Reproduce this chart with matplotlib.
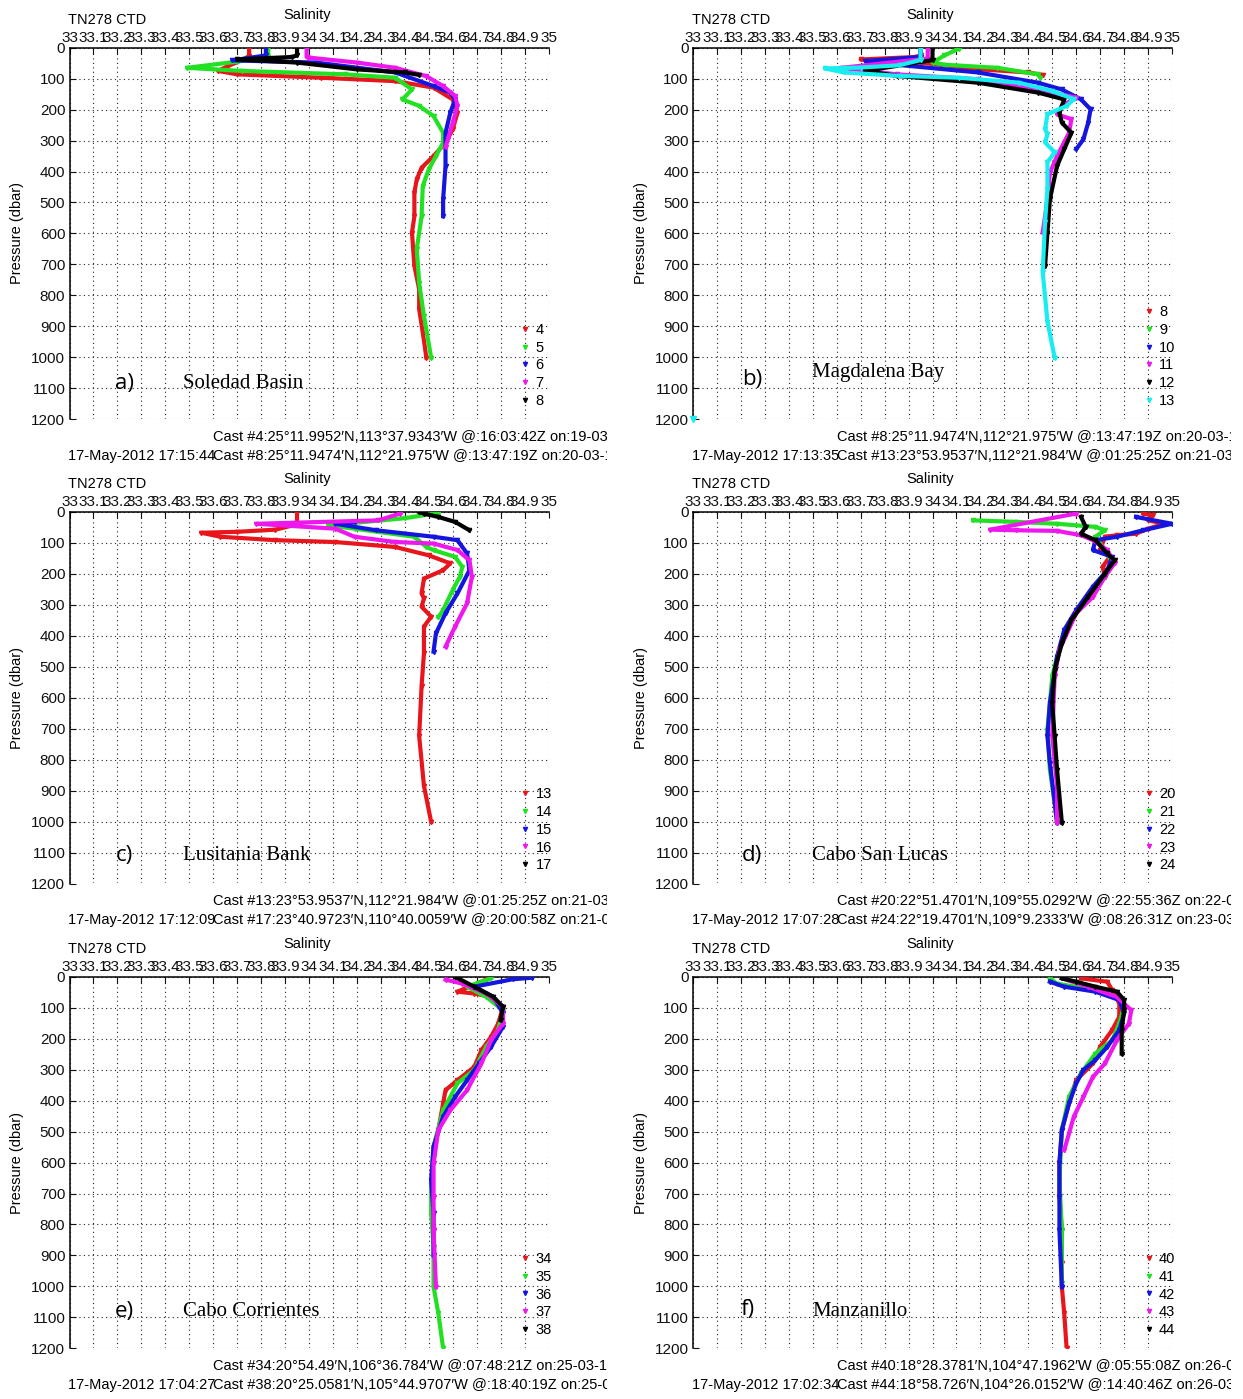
import numpy as np
import matplotlib.pyplot as plt
from matplotlib.lines import Line2D
from matplotlib.transforms import Bbox, TransformedBbox

plt.rcParams['font.family'] = ['Liberation Sans', 'DejaVu Sans']
plt.rcParams['font.size'] = 10.5

# --- CTD casts: pressure (dbar) and salinity ---
# Soledad Basin
p4 = [0, 27, 40, 60, 75, 86, 97, 108, 129, 167, 210, 264, 307, 350, 388, 425, 468, 545, 597, 705, 780, 845, 920, 1001]
s4 = [33.75, 33.75, 33.72, 33.66, 33.62, 33.70, 34.05, 34.36, 34.52, 34.60, 34.62, 34.60, 34.57, 34.52, 34.47, 34.45,
      34.44, 34.44, 34.43, 34.44, 34.46, 34.46, 34.475, 34.49]
p5 = [0, 30, 45, 65, 75, 86, 97, 135, 167, 188, 221, 275, 307, 350, 393, 447, 545, 650, 760, 867, 1001]
s5 = [33.83, 33.83, 33.70, 33.49, 33.72, 34.15, 34.36, 34.43, 34.39, 34.46, 34.52, 34.56, 34.56, 34.53, 34.50, 34.475,
      34.47, 34.45, 34.46, 34.48, 34.51]
p6 = [0, 25, 41, 48, 80, 124, 145, 167, 210, 275, 382, 490, 544]
s6 = [33.82, 33.82, 33.68, 34.03, 34.36, 34.52, 34.59, 34.61, 34.59, 34.57, 34.57, 34.56, 34.56]
p7 = [0, 30, 32, 48, 65, 92, 124, 156, 188, 242, 296, 320]
s7 = [33.99, 33.99, 34.00, 34.20, 34.36, 34.49, 34.56, 34.61, 34.62, 34.60, 34.58, 34.57]
p8 = [0, 25, 30, 38, 48, 70, 80, 88]
s8 = [33.95, 33.95, 33.93, 33.70, 33.95, 34.20, 34.40, 34.46]

# Magdalena Bay
p9 = [3, 25, 48, 55, 65, 86, 97]
s9 = [34.11, 34.05, 34.00, 34.05, 34.27, 34.44, 34.45]
p10 = [0, 30, 43, 55, 80, 113, 135, 167, 199, 242, 296, 328]
s10 = [33.95, 33.95, 33.72, 33.85, 34.19, 34.44, 34.54, 34.62, 34.66, 34.65, 34.63, 34.60]
p11 = [0, 35, 65, 86, 102, 135, 161, 188, 215, 231, 275, 350, 404, 490, 597]
s11 = [33.98, 33.98, 33.62, 33.85, 34.19, 34.44, 34.60, 34.54, 34.52, 34.58, 34.57, 34.52, 34.49, 34.48, 34.46]
p12 = [0, 40, 75, 91, 113, 145, 167, 210, 242, 275, 328, 382, 490, 597, 705]
s12 = [34.00, 34.00, 33.72, 33.85, 34.19, 34.44, 34.55, 34.53, 34.54, 34.58, 34.55, 34.52, 34.49, 34.48, 34.47]
p13 = [0, 40, 57, 64, 67, 80, 91, 97, 113, 140, 166, 188, 215, 263, 279, 306, 338, 370, 456, 563, 724, 885, 1001]
s13 = [33.95, 33.95, 33.86, 33.70, 33.55, 33.63, 33.86, 34.11, 34.36, 34.50, 34.59, 34.56, 34.48, 34.47, 34.48, 34.47,
       34.51, 34.48, 34.48, 34.47, 34.46, 34.48, 34.51]
p13_stray = [1200]
s13_stray = [33.0]

# Lusitania Bank
p14 = [3, 20, 43, 54, 80, 113, 123, 145, 177, 209, 252, 317, 340]
s14 = [34.54, 34.40, 34.08, 34.19, 34.44, 34.49, 34.52, 34.61, 34.64, 34.63, 34.60, 34.56, 34.54]
p15 = [32, 38, 59, 80, 91, 134, 188, 263, 327, 392, 451]
s15 = [34.19, 34.11, 34.28, 34.52, 34.62, 34.66, 34.67, 34.62, 34.57, 34.53, 34.52]
p16 = [5, 27, 38, 54, 80, 97, 102, 123, 156, 209, 295, 370, 435]
s16 = [34.38, 34.29, 33.78, 34.11, 34.19, 34.36, 34.52, 34.62, 34.67, 34.68, 34.66, 34.61, 34.57]
p17 = [0, 5, 16, 32, 59]
s17 = [34.46, 34.48, 34.54, 34.61, 34.67]

# Cabo San Lucas
p20 = [5, 11, 27, 38, 54, 70, 75, 80, 123, 145, 177, 209]
s20 = [34.88, 34.92, 34.90, 34.97, 34.90, 34.85, 34.77, 34.72, 34.70, 34.74, 34.71, 34.72]
p21 = [27, 32, 38, 48, 59, 80, 134, 166, 209, 274, 338, 402, 467, 531, 617, 703, 832, 939, 1003]
s21 = [34.17, 34.35, 34.52, 34.68, 34.72, 34.68, 34.73, 34.75, 34.72, 34.65, 34.59, 34.55, 34.52, 34.50, 34.49,
       34.48, 34.49, 34.51, 34.52]
p22 = [16, 38, 59, 80, 91, 123, 145, 188, 241, 317, 381, 467, 617, 724, 810, 1003]
s22 = [34.85, 35.00, 34.88, 34.77, 34.68, 34.67, 34.75, 34.73, 34.67, 34.60, 34.55, 34.52, 34.49, 34.48, 34.49, 34.52]
p23 = [5, 57, 59, 61, 75, 91, 123, 166, 209, 274, 327, 445, 531, 724, 885, 1003]
s23 = [34.60, 34.24, 34.35, 34.52, 34.62, 34.67, 34.73, 34.76, 34.72, 34.67, 34.60, 34.53, 34.51, 34.50, 34.52, 34.52]
p24 = [16, 48, 70, 91, 134, 156, 199, 274, 349, 424, 510, 617, 724, 832, 1003]
s24 = [34.62, 34.64, 34.62, 34.68, 34.73, 34.76, 34.72, 34.65, 34.58, 34.54, 34.51, 34.50, 34.51, 34.52, 34.54]

# Cabo Corrientes
p34 = [9, 48, 54, 65, 97, 151, 194, 237, 291, 334, 366, 409, 495, 549, 580]
s34 = [34.74, 34.62, 34.69, 34.76, 34.81, 34.79, 34.76, 34.72, 34.69, 34.62, 34.57, 34.56, 34.54, 34.52, 34.52]
p35 = [5, 32, 65, 108, 172, 226, 301, 344, 431, 549, 667, 764, 872, 1001, 1087, 1200]
s35 = [34.76, 34.66, 34.74, 34.81, 34.79, 34.74, 34.69, 34.62, 34.56, 34.52, 34.51, 34.51, 34.52, 34.52, 34.54, 34.56]
p36 = [3, 8, 32, 65, 118, 161, 226, 280, 334, 388, 452, 549, 657, 764, 818, 900]
s36 = [34.93, 34.85, 34.69, 34.77, 34.81, 34.81, 34.76, 34.71, 34.66, 34.61, 34.56, 34.52, 34.51, 34.52, 34.52, 34.52]
p37 = [9, 22, 54, 97, 151, 205, 280, 366, 431, 495, 603, 710, 818, 1001]
s37 = [34.57, 34.64, 34.74, 34.81, 34.81, 34.76, 34.72, 34.66, 34.59, 34.54, 34.52, 34.52, 34.52, 34.53]
p38 = [0, 32, 65, 97, 140]
s38 = [34.61, 34.69, 34.77, 34.81, 34.80]

# Manzanillo
p40 = [5, 16, 43, 86, 129, 172, 226, 280, 334, 409, 495, 603, 710, 818, 926, 1001, 1087, 1200]
s40 = [34.62, 34.73, 34.75, 34.78, 34.78, 34.75, 34.70, 34.67, 34.60, 34.57, 34.54, 34.53, 34.53, 34.54, 34.54,
       34.54, 34.55, 34.56]
p41 = [5, 22, 43, 65, 97, 151, 205, 248, 312, 388, 495, 657, 818, 990]
s41 = [34.49, 34.52, 34.68, 34.77, 34.80, 34.78, 34.75, 34.68, 34.62, 34.57, 34.54, 34.53, 34.54, 34.54]
p42 = [16, 32, 48, 75, 118, 172, 226, 269, 301, 344, 409, 495, 603, 710, 818, 1001]
s42 = [34.49, 34.55, 34.68, 34.78, 34.80, 34.78, 34.73, 34.68, 34.63, 34.60, 34.57, 34.54, 34.53, 34.53, 34.53, 34.54]
p43 = [5, 32, 65, 108, 151, 205, 280, 323, 388, 452, 560]
s43 = [34.54, 34.65, 34.77, 34.83, 34.82, 34.77, 34.72, 34.67, 34.63, 34.59, 34.55]
p44 = [5, 16, 32, 48, 75, 108, 172, 248]
s44 = [34.54, 34.60, 34.68, 34.77, 34.80, 34.80, 34.79, 34.79]

panel_letters = ['a)', 'b)', 'c)', 'd)', 'e)', 'f)']
site_names = ['Soledad Basin', 'Magdalena Bay', 'Lusitania Bank', 'Cabo San Lucas', 'Cabo Corrientes', 'Manzanillo']
footer_first = [
    'Cast #4:25°11.9952′N,113°37.9343′W @:16:03:42Z on:19-03-12',
    'Cast #8:25°11.9474′N,112°21.975′W @:13:47:19Z on:20-03-12',
    'Cast #13:23°53.9537′N,112°21.984′W @:01:25:25Z on:21-03-12',
    'Cast #20:22°51.4701′N,109°55.0292′W @:22:55:36Z on:22-03-12',
    'Cast #34:20°54.49′N,106°36.784′W @:07:48:21Z on:25-03-12',
    'Cast #40:18°28.3781′N,104°47.1962′W @:05:55:08Z on:26-03-12',
]
footer_last = [
    'Cast #8:25°11.9474′N,112°21.975′W @:13:47:19Z on:20-03-12',
    'Cast #13:23°53.9537′N,112°21.984′W @:01:25:25Z on:21-03-12',
    'Cast #17:23°40.9723′N,110°40.0059′W @:20:00:58Z on:21-03-12',
    'Cast #24:22°19.4701′N,109°9.2333′W @:08:26:31Z on:23-03-12',
    'Cast #38:20°25.0581′N,105°44.9707′W @:18:40:19Z on:25-03-12',
    'Cast #44:18°58.726′N,104°26.0152′W @:14:40:46Z on:26-03-12',
]
print_stamps = ['17-May-2012 17:15:44', '17-May-2012 17:13:35', '17-May-2012 17:12:09',
                '17-May-2012 17:07:28', '17-May-2012 17:04:27', '17-May-2012 17:02:34']

RED, GREEN, BLUE, MAG, BLK, CYAN = '#e8161c', '#22e022', '#1515e0', '#ee18ee', '#000000', '#18eef0'
casts = [
    [(p4, s4, RED, '4'), (p5, s5, GREEN, '5'), (p6, s6, BLUE, '6'), (p7, s7, MAG, '7'), (p8, s8, BLK, '8')],
    [(p8, s8, RED, '8'), (p9, s9, GREEN, '9'), (p10, s10, BLUE, '10'), (p11, s11, MAG, '11'),
     (p12, s12, BLK, '12'), (p13, s13, CYAN, '13')],
    [(p13, s13, RED, '13'), (p14, s14, GREEN, '14'), (p15, s15, BLUE, '15'), (p16, s16, MAG, '16'),
     (p17, s17, BLK, '17')],
    [(p20, s20, RED, '20'), (p21, s21, GREEN, '21'), (p22, s22, BLUE, '22'), (p23, s23, MAG, '23'),
     (p24, s24, BLK, '24')],
    [(p34, s34, RED, '34'), (p35, s35, GREEN, '35'), (p36, s36, BLUE, '36'), (p37, s37, MAG, '37'),
     (p38, s38, BLK, '38')],
    [(p40, s40, RED, '40'), (p41, s41, GREEN, '41'), (p42, s42, BLUE, '42'), (p43, s43, MAG, '43'),
     (p44, s44, BLK, '44')],
]

# layout in pixels
W, H = 1243, 1399
col_left = [69.5, 693.0]
row_top = [47.7, 512.0, 976.8]
col_cut = [607, 1231]
ax_w, ax_h = 479.0, 371.5
letter_xy = [(124, 383), (752, 380), (124, 855), (752, 855), (124, 1311), (748, 1309)]
name_xy = [(183, 383), (812, 373), (183, 856), (812, 856), (183, 1312), (812, 1311)]


def fx(x):
    return x / W


def fy(y):
    return 1 - y / H


fig = plt.figure(figsize=(W / 100, H / 100), dpi=100)

xt = np.round(np.arange(33, 35.001, 0.1), 1)
xl = ['%g' % v for v in xt]

for i in range(6):
    col, row = i % 2, i // 2
    left, top = col_left[col], row_top[row]
    ax = fig.add_axes([fx(left), fy(top + ax_h), ax_w / W, ax_h / H])

    for p, s, c, lab in casts[i]:
        ax.plot(s, p, color=c, lw=3.0, marker='v', ms=3, zorder=3)
    if i == 1:
        ax.plot(s13_stray, p13_stray, ls='none', marker='v', ms=4, color=CYAN, clip_on=False, zorder=4)

    ax.set_xlim(33, 35)
    ax.set_ylim(1200, 0)
    ax.xaxis.tick_top()
    ax.set_xticks(xt)
    ax.set_xticklabels(xl)
    ax.set_yticks(np.arange(0, 1201, 100))
    ax.tick_params(direction='in', length=4, width=0.8, pad=3, labelsize=11, colors='#111111')
    ax.tick_params(axis='x', top=True, bottom=False, labeltop=True, labelbottom=False, pad=2)
    ax.grid(True, color='#222222', ls=(0, (1, 3)), lw=0.8)
    ax.spines['right'].set_visible(False)
    ax.spines['bottom'].set_visible(False)
    ax.spines['top'].set_linewidth(1.1)
    ax.spines['left'].set_linewidth(1.1)

    handles = [Line2D([0], [0], ls='none', marker='v', ms=3, color=c) for _, _, c, _ in casts[i]]
    labels = [lab for _, _, _, lab in casts[i]]
    ax.legend(handles, labels, loc='lower left', bbox_to_anchor=((521 - col_left[0]) / ax_w, 0.03),
              frameon=False, handlelength=0.6, handletextpad=0.4, borderpad=0, borderaxespad=0,
              labelspacing=0.26, fontsize=10.5)

    fig.text(fx(left - 1.5), fy(top - 27.7), 'TN278 CTD', ha='left', va='center')
    fig.text(fx(left + ax_w / 2 - 2), fy(top - 32.7), 'Salinity', ha='center', va='center')
    fig.text(fx(left - 52.5), fy(top + ax_h / 2), 'Pressure (dbar)', rotation=90, ha='center', va='center')

    lx, ly = letter_xy[i]
    fig.text(fx(lx), fy(ly), panel_letters[i], family='Open Sans', fontsize=16, ha='center', va='center')
    nx, ny = name_xy[i]
    fig.text(fx(nx), fy(ny), site_names[i], family='Liberation Serif', fontsize=15, ha='left', va='center')

    # cast positions under each panel, cut at the column edge
    clip = TransformedBbox(Bbox([[0, 0], [fx(col_cut[col]), 1]]), fig.transFigure)
    bottom = top + ax_h
    for t in (fig.text(fx(left + 143.5), fy(bottom + 17.5), footer_first[i], ha='left', va='center'),
              fig.text(fx(left - 1.5), fy(bottom + 36.5), print_stamps[i], ha='left', va='center'),
              fig.text(fx(left + 143.5), fy(bottom + 36.5), footer_last[i], ha='left', va='center')):
        t.set_clip_box(clip)
        t.set_clip_on(True)

fig.savefig('out.png', dpi=100, facecolor='white')
